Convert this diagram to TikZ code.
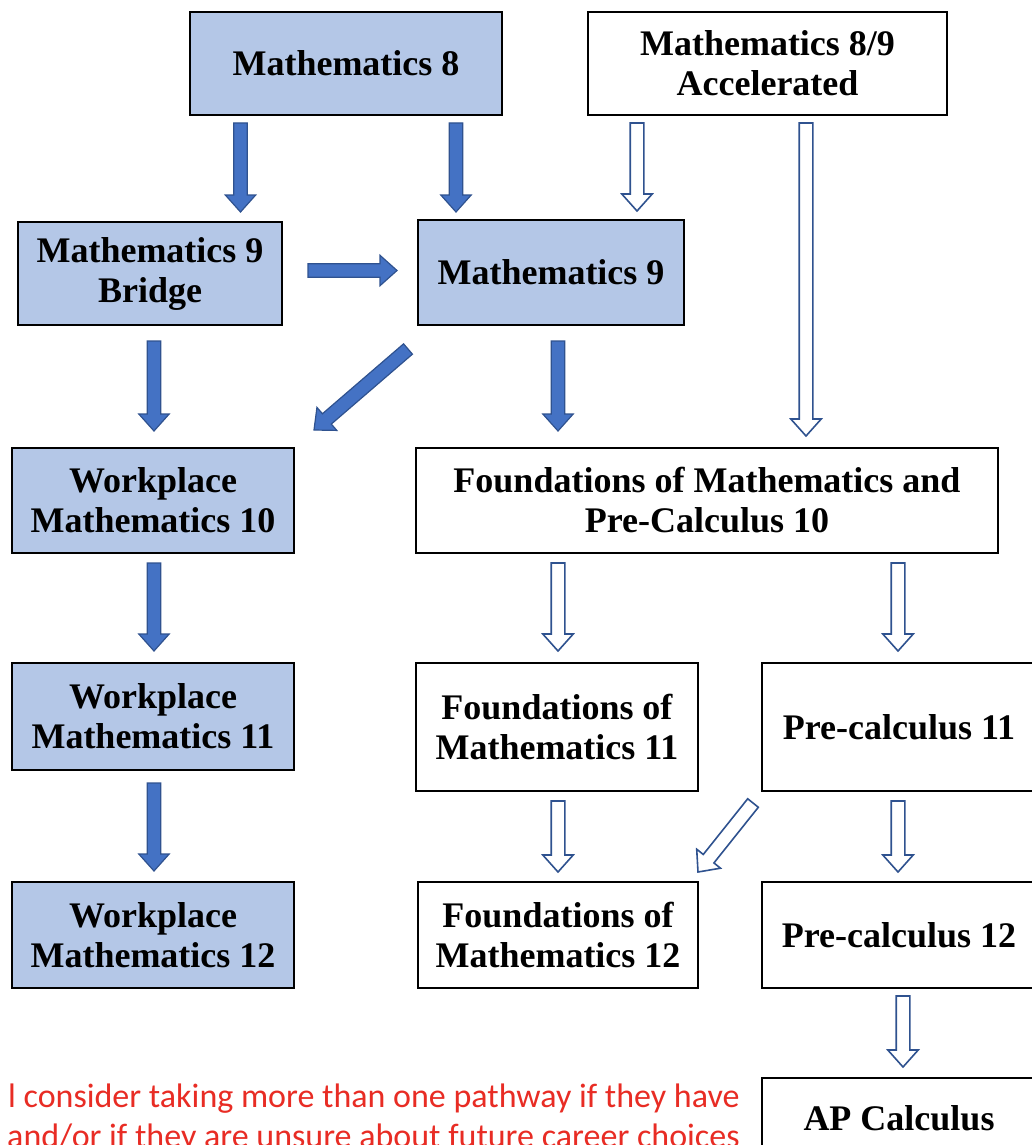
\documentclass[tikz,border=0pt]{standalone}
\usepackage{fontspec}
\setmainfont{Liberation Serif}
\newfontfamily\notefont{Carlito}
\usetikzlibrary{calc}
\definecolor{boxblue}{RGB}{180,199,231}
\definecolor{arrowblue}{RGB}{68,114,196}
\definecolor{arrowline}{RGB}{47,82,143}
\definecolor{notered}{RGB}{232,44,36}

\begin{document}
\begin{tikzpicture}[x=0.5pt, y=-0.5pt,
  course/.style={draw, black, rectangle, line width=1pt, align=center, inner sep=0pt,
    font=\fontsize{18}{20}\selectfont\bfseries},
  blockarrow/.style={to path={
    let \p1=(\tikztostart), \p2=(\tikztotarget), \p3=($(\p2)!8.5pt!(\p1)$) in
    ($(\p1)!3.4pt!90:(\p2)$) -- ($(\p3)!3.4pt!90:(\p2)$) -- ($(\p3)!7.6pt!90:(\p2)$) -- (\p2)
    -- ($(\p3)!7.6pt!-90:(\p2)$) -- ($(\p3)!3.4pt!-90:(\p2)$) -- ($(\p1)!3.4pt!-90:(\p2)$) -- cycle}},
  solidarrow/.style={blockarrow, draw=arrowline, fill=arrowblue, line width=0.6pt},
  openarrow/.style={blockarrow, draw=arrowline, fill=white, line width=0.8pt},
  notetext/.style={text=notered, inner sep=0pt, anchor=base east,
    font=\notefont\fontsize{17}{20}\selectfont}]
  \useasboundingbox (0, 0) rectangle (1032, 1145);
  \clip (0, 0) rectangle (1032, 1145);

  \node[course, fill=boxblue, minimum width=156pt, minimum height=51.5pt] at (346, 63.5) (m8) {Mathematics 8};
  \node[course, minimum width=179.5pt, minimum height=51.5pt] at (767.5, 63.5) (acc) {Mathematics 8/9\\Accelerated};

  \node[course, fill=boxblue, minimum width=132pt, minimum height=51.5pt] at (150, 273.5) (br) {Mathematics 9\\Bridge};
  \node[course, fill=boxblue, minimum width=133pt, minimum height=52.5pt] at (551, 272.5) (m9) {Mathematics 9};

  \node[course, fill=boxblue, minimum width=141pt, minimum height=52.5pt] at (153, 500.5) (wm10) {Workplace\\Mathematics 10};
  \node[course, minimum width=291pt, minimum height=52.5pt] at (707, 500.5) (fpc10) {Foundations of Mathematics and\\Pre-Calculus 10};

  \node[course, fill=boxblue, minimum width=141pt, minimum height=53.5pt] at (153, 716.5) (wm11) {Workplace\\Mathematics 11};
  \node[course, minimum width=141pt, minimum height=64pt] at (557, 727) (fm11) {Foundations of\\Mathematics 11};
  \node[course, minimum width=137pt, minimum height=64pt] at (899, 727) (pc11) {Pre-calculus 11};

  \node[course, fill=boxblue, minimum width=141pt, minimum height=53pt] at (153, 935) (wm12) {Workplace\\Mathematics 12};
  \node[course, minimum width=140pt, minimum height=53pt] at (558, 935) (fm12) {Foundations of\\Mathematics 12};
  \node[course, minimum width=137pt, minimum height=53pt] at (899, 935) (pc12) {Pre-calculus 12};

  \node[course, minimum width=137pt, minimum height=40pt] at (899, 1118) (ap) {AP Calculus};

  \node[notetext] at (740, 1107) (note1) {l consider taking more than one pathway if they have};
  \node[notetext] at (740, 1147) (note2) {and/or if they are unsure about future career choices};

  \draw[solidarrow] ($(m8.south)+(-105.5, 7)$) to ($(br.north)+(90.5, -9)$);
  \draw[solidarrow] ($(m8.south)+(110, 7)$) to ($(m9.north)+(-95, -7)$);
  \draw[openarrow] ($(acc.south)+(-130.5, 7)$) to ($(m9.north)+(86, -8)$);
  \draw[openarrow] ($(acc.south)+(38.5, 7)$) to ($(fpc10.north)+(99, -11)$);

  \draw[solidarrow] ($(br.east)+(25, -3)$) to ($(m9.west)+(-20, -2)$);
  \draw[solidarrow] ($(br.south)+(4, 15)$) to ($(wm10.north)+(1, -16)$);
  \draw[solidarrow] ($(m9.south)+(-143, 23)$) to ($(wm10.north east)+(19, -17)$);
  \draw[solidarrow] ($(m9.south)+(7, 15)$) to ($(fpc10.north)+(-149, -16)$);

  \draw[solidarrow] ($(wm10.south)+(1, 9)$) to ($(wm11.north)+(1, -11)$);
  \draw[solidarrow] ($(wm11.south)+(1, 12)$) to ($(wm12.north)+(1, -10)$);

  \draw[openarrow] ($(fpc10.south)+(-149, 9)$) to ($(fm11.north)+(1, -11)$);
  \draw[openarrow] ($(fpc10.south)+(191, 9)$) to ($(pc11.north)+(-1, -11)$);
  \draw[openarrow] ($(fm11.south)+(1, 9)$) to ($(fm12.north)+(0, -9)$);
  \draw[openarrow] ($(pc11.south west)+(-8, 11)$) to ($(fm12.north east)+(-1, -9)$);
  \draw[openarrow] ($(pc11.south)+(-1, 9)$) to ($(pc12.north)+(-1, -9)$);
  \draw[openarrow] ($(pc12.south)+(4, 7)$) to ($(ap.north)+(4, -10)$);

\end{tikzpicture}
\end{document}
